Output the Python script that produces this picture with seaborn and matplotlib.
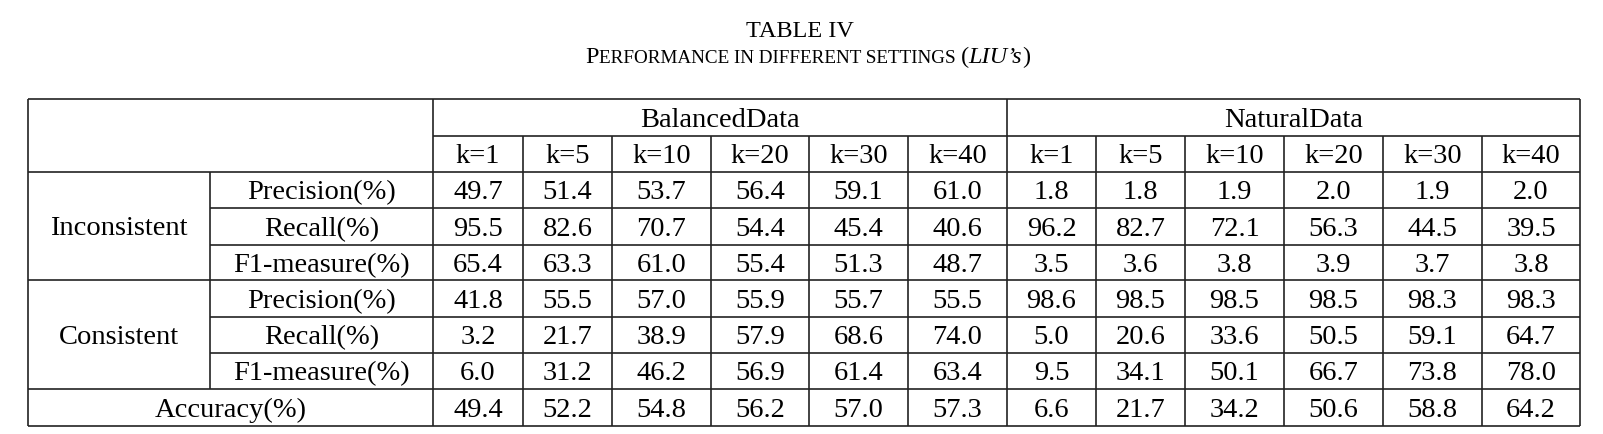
import numpy as np
import matplotlib
matplotlib.use("Agg")
import matplotlib.pyplot as plt
import seaborn as sns

k_values = [1, 5, 10, 20, 30, 40]
groups = ["BalancedData", "NaturalData"]
classes = ["Inconsistent", "Consistent"]
metrics = ["Precision(%)", "Recall(%)", "F1-measure(%)"]

incons_prec_bal = [49.7, 51.4, 53.7, 56.4, 59.1, 61.0]
incons_rec_bal = [95.5, 82.6, 70.7, 54.4, 45.4, 40.6]
incons_f1_bal = [65.4, 63.3, 61.0, 55.4, 51.3, 48.7]
cons_prec_bal = [41.8, 55.5, 57.0, 55.9, 55.7, 55.5]
cons_rec_bal = [3.2, 21.7, 38.9, 57.9, 68.6, 74.0]
cons_f1_bal = [6.0, 31.2, 46.2, 56.9, 61.4, 63.4]
acc_bal = [49.4, 52.2, 54.8, 56.2, 57.0, 57.3]

incons_prec_nat = [1.8, 1.8, 1.9, 2.0, 1.9, 2.0]
incons_rec_nat = [96.2, 82.7, 72.1, 56.3, 44.5, 39.5]
incons_f1_nat = [3.5, 3.6, 3.8, 3.9, 3.7, 3.8]
cons_prec_nat = [98.6, 98.5, 98.5, 98.5, 98.3, 98.3]
cons_rec_nat = [5.0, 20.6, 33.6, 50.5, 59.1, 64.7]
cons_f1_nat = [9.5, 34.1, 50.1, 66.7, 73.8, 78.0]
acc_nat = [6.6, 21.7, 34.2, 50.6, 58.8, 64.2]

rows = [
    incons_prec_bal + incons_prec_nat,
    incons_rec_bal + incons_rec_nat,
    incons_f1_bal + incons_f1_nat,
    cons_prec_bal + cons_prec_nat,
    cons_rec_bal + cons_rec_nat,
    cons_f1_bal + cons_f1_nat,
    acc_bal + acc_nat,
]

# ---- layout (pixels) ----
col_x = [433, 523, 612, 711, 809, 908, 1007, 1096, 1185, 1284, 1383, 1482, 1580]
row_y = [100, 137, 173, 209, 246, 281, 318, 354, 390, 427]
left, sub_x = 28, 210

sns.set_theme(style="white")
plt.rcParams["font.family"] = ["Liberation Serif", "DejaVu Serif"]

fig = plt.figure(figsize=(16.03, 4.35), dpi=100)
ax = fig.add_axes([0, 0, 1, 1])
ax.set_xlim(0, 1603)
ax.set_ylim(435, 0)
ax.axis("off")

lc = "#222222"
lw = 1.2
right = col_x[-1]

# horizontal rules
ax.hlines([row_y[0], row_y[2], row_y[5], row_y[8], row_y[9]], left, right, color=lc, lw=lw)
ax.hlines(row_y[1], col_x[0], right, color=lc, lw=lw)
ax.hlines([row_y[3], row_y[4], row_y[6], row_y[7]], sub_x, right, color=lc, lw=lw)
# vertical rules
ax.vlines([left, col_x[0], col_x[6], right], row_y[0], row_y[-1], color=lc, lw=lw)
ax.vlines(sub_x, row_y[2], row_y[8], color=lc, lw=lw)
inner = [x for i, x in enumerate(col_x) if i not in (0, 6, 12)]
ax.vlines(inner, row_y[1], row_y[-1], color=lc, lw=lw)

fs = 20.5
off = 8.5  # baseline offset from row centre

def put(x, y, s, **kw):
    ax.text(x, y + off, s, ha="center", va="baseline", fontsize=fs, color="black", **kw)

# header
put((col_x[0] + col_x[6]) / 2, (row_y[0] + row_y[1]) / 2, groups[0])
put((col_x[6] + col_x[12]) / 2, (row_y[0] + row_y[1]) / 2, groups[1])
for j in range(12):
    cx = (col_x[j] + col_x[j + 1]) / 2
    put(cx, (row_y[1] + row_y[2]) / 2, f"k={k_values[j % 6]}")

# row labels
put((left + sub_x) / 2, (row_y[2] + row_y[5]) / 2, classes[0])
put((left + sub_x) / 2, (row_y[5] + row_y[8]) / 2, classes[1])
for i in range(6):
    put((sub_x + col_x[0]) / 2, (row_y[i + 2] + row_y[i + 3]) / 2, metrics[i % 3])
put((left + col_x[0]) / 2, (row_y[8] + row_y[9]) / 2, "Accuracy(%)")

# values
for i, vals in enumerate(rows):
    cy = (row_y[i + 2] + row_y[i + 3]) / 2
    for j, v in enumerate(vals):
        put((col_x[j] + col_x[j + 1]) / 2, cy, f"{v:.1f}")

# caption
ax.text(800, 37, "TABLE IV", ha="center", va="baseline", fontsize=17.5, color="black")

pieces = [
    ("P", 17.5, "normal"),
    ("ERFORMANCE IN DIFFERENT SETTINGS ", 13.8, "normal"),
    ("(", 17.5, "normal"),
    ("LIU\u2019s", 17.5, "italic"),
    (")", 17.5, "normal"),
]
renderer = fig.canvas.get_renderer()
texts, widths = [], []
for s, size, style in pieces:
    t = ax.text(0, 63, s, ha="left", va="baseline", fontsize=size, style=style, color="black")
    bb = t.get_window_extent(renderer=renderer)
    texts.append(t)
    widths.append(bb.width)
x0 = 808 - sum(widths) / 2
for t, w in zip(texts, widths):
    t.set_x(x0)
    x0 += w

fig.savefig("out.png", dpi=100, facecolor="white")
